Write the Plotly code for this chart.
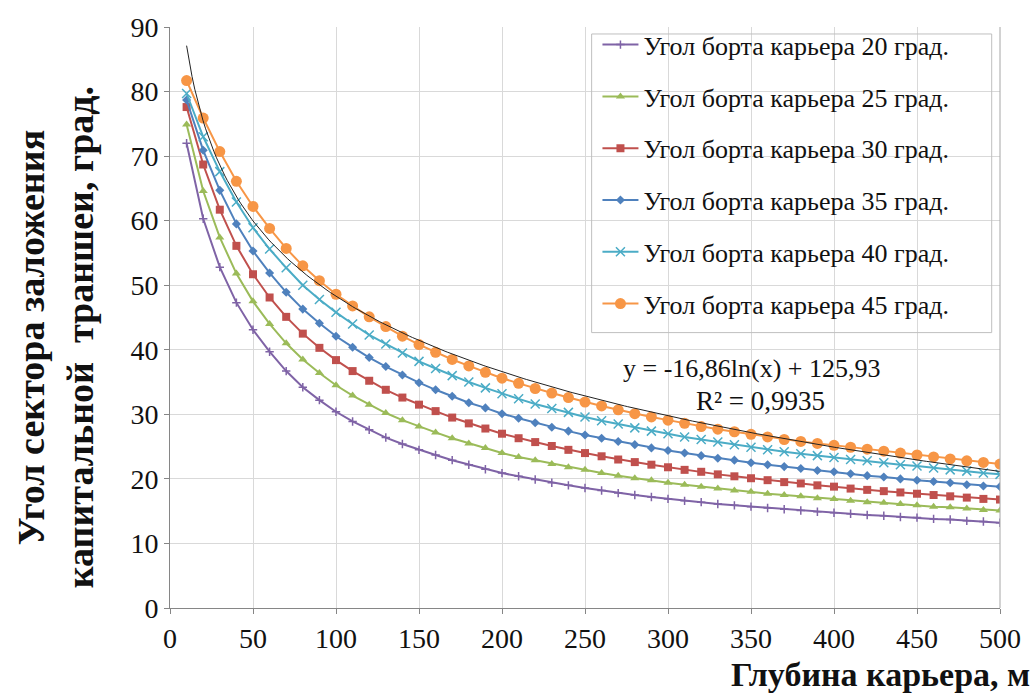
import plotly.graph_objects as go
import numpy as np

depth = list(range(10, 501, 10))

angle_20 = [72.0, 60.3, 52.8, 47.3, 43.1, 39.7, 36.7, 34.2, 32.2, 30.4,
            28.9, 27.6, 26.4, 25.4, 24.5, 23.7, 22.9, 22.2, 21.5, 20.9,
            20.4, 19.9, 19.4, 19.0, 18.6, 18.2, 17.8, 17.5, 17.2, 16.9,
            16.6, 16.4, 16.1, 15.9, 15.7, 15.5, 15.3, 15.1, 14.9, 14.75,
            14.6, 14.4, 14.3, 14.1, 14.0, 13.8, 13.7, 13.5, 13.4, 13.2]
angle_25 = [74.9, 64.6, 57.4, 51.8, 47.5, 44.0, 41.0, 38.5, 36.4, 34.5,
            32.9, 31.5, 30.2, 29.1, 28.1, 27.2, 26.3, 25.5, 24.8, 24.0,
            23.4, 22.9, 22.3, 21.8, 21.4, 20.9, 20.5, 20.1, 19.8, 19.4,
            19.1, 18.8, 18.5, 18.2, 18.0, 17.7, 17.5, 17.3, 17.0, 16.9,
            16.6, 16.4, 16.3, 16.1, 15.9, 15.7, 15.6, 15.4, 15.2, 15.1]
angle_30 = [77.6, 68.7, 61.7, 56.1, 51.7, 48.1, 45.1, 42.5, 40.3, 38.4,
            36.7, 35.2, 33.8, 32.6, 31.5, 30.5, 29.5, 28.6, 27.8, 27.0,
            26.3, 25.7, 25.1, 24.5, 24.0, 23.5, 23.0, 22.6, 22.2, 21.8,
            21.4, 21.1, 20.7, 20.4, 20.1, 19.8, 19.5, 19.3, 19.0, 18.8,
            18.5, 18.3, 18.1, 17.9, 17.7, 17.5, 17.3, 17.1, 16.9, 16.8]
angle_35 = [78.7, 70.9, 64.7, 59.5, 55.3, 51.9, 48.9, 46.3, 44.1, 42.1,
            40.4, 38.8, 37.4, 36.1, 34.9, 33.8, 32.8, 31.8, 31.0, 30.1,
            29.4, 28.7, 28.0, 27.4, 26.8, 26.3, 25.8, 25.3, 24.8, 24.4,
            24.0, 23.6, 23.2, 22.9, 22.5, 22.2, 21.9, 21.6, 21.3, 21.1,
            20.8, 20.5, 20.3, 20.0, 19.8, 19.6, 19.4, 19.1, 18.9, 18.8]
angle_40 = [79.7, 73.0, 67.6, 62.9, 58.9, 55.6, 52.7, 50.0, 47.8, 45.8,
            44.0, 42.3, 40.9, 39.5, 38.2, 37.1, 36.0, 35.0, 34.1, 33.2,
            32.4, 31.6, 30.9, 30.3, 29.6, 29.0, 28.5, 27.9, 27.4, 27.0,
            26.5, 26.1, 25.7, 25.3, 24.9, 24.5, 24.2, 23.9, 23.6, 23.3,
            23.0, 22.8, 22.5, 22.2, 22.0, 21.7, 21.4, 21.2, 20.9, 20.7]
angle_45 = [81.7, 75.9, 70.7, 66.1, 62.2, 58.8, 55.7, 53.0, 50.7, 48.6,
            46.8, 45.1, 43.6, 42.1, 40.8, 39.6, 38.5, 37.5, 36.5, 35.6,
            34.8, 34.0, 33.3, 32.6, 31.9, 31.3, 30.7, 30.1, 29.6, 29.1,
            28.6, 28.1, 27.7, 27.3, 26.9, 26.5, 26.1, 25.8, 25.5, 25.2,
            24.9, 24.6, 24.3, 24.0, 23.7, 23.4, 23.1, 22.8, 22.55, 22.3]

series_names = ["Угол борта карьера 20 град.", "Угол борта карьера 25 град.",
                "Угол борта карьера 30 град.", "Угол борта карьера 35 град.",
                "Угол борта карьера 40 град.", "Угол борта карьера 45 град."]

# trendline shown on chart: y = -16,86 ln(x) + 125,93
TREND_A = -16.86
TREND_B = 125.93
trend_label = "y = -16,86ln(x) + 125,93"
r2_label = "R² = 0,9935"

x_ticks = list(range(0, 501, 50))
y_ticks = list(range(0, 91, 10))

FONT = "Liberation Serif, Times New Roman, serif"

styles = [
    dict(color="#7F63A6", symbol="cross-thin-open", size=6, mlw=1.5),
    dict(color="#9BBB59", symbol="triangle-up", size=8, mlw=0),
    dict(color="#C0504D", symbol="square", size=8, mlw=0),
    dict(color="#4F81BD", symbol="diamond", size=7, mlw=0),
    dict(color="#4BACC6", symbol="x-thin-open", size=9, mlw=1.5),
    dict(color="#F79646", symbol="circle", size=11, mlw=0),
]

data = [angle_20, angle_25, angle_30, angle_35, angle_40, angle_45]

fig = go.Figure()
for i, (vals, name, st) in enumerate(zip(data, series_names, styles)):
    marker = dict(symbol=st["symbol"], size=st["size"], color=st["color"])
    if st["mlw"]:
        marker["line"] = dict(color=st["color"], width=st["mlw"])
    fig.add_trace(go.Scatter(
        x=depth, y=vals, mode="lines+markers", name=name,
        line=dict(color=st["color"], width=2),
        marker=marker, legendgroup=f"g{i}",
    ))

xt = np.linspace(depth[0], depth[-1], 300)
fig.add_trace(go.Scatter(x=xt, y=TREND_A * np.log(xt) + TREND_B, mode="lines",
                         line=dict(color="#222222", width=1), showlegend=False,
                         hoverinfo="skip"))

axis_common = dict(showgrid=True, gridcolor="#D9D9D9", gridwidth=1,
                   showline=True, linecolor="#868686", linewidth=1,
                   ticks="outside", ticklen=5, tickcolor="#868686",
                   tickfont=dict(family=FONT, size=28, color="#111111"),
                   zeroline=False, mirror=False)

fig.update_xaxes(range=[0, 500], tickvals=x_ticks, **axis_common)
fig.update_yaxes(range=[0, 90], tickvals=y_ticks, **axis_common)

fig.update_layout(
    width=1035, height=697,
    margin=dict(l=170, r=35, t=22, b=89),
    plot_bgcolor="white", paper_bgcolor="white",
    font=dict(family=FONT, color="#111111"),
    legend=dict(x=0.515, y=1.01, xanchor="left", yanchor="top",
                font=dict(family=FONT, size=26, color="#111111"),
                bgcolor="rgba(255,255,255,0)", borderwidth=0,
                tracegroupgap=15, itemwidth=36),
    showlegend=True,
    shapes=[
        dict(type="rect", xref="paper", yref="paper", x0=0.508, x1=0.990,
             y0=0.474, y1=0.988, line=dict(color="#BFBFBF", width=1),
             fillcolor="rgba(0,0,0,0)"),
        dict(type="line", xref="paper", yref="paper", x0=1, x1=1, y0=0, y1=1,
             line=dict(color="#A6A6A6", width=1)),
    ],
    annotations=[
        dict(text=trend_label, xref="paper", yref="paper", x=(752-170)/830,
             y=(608-366)/586, xanchor="center", yanchor="middle",
             showarrow=False, font=dict(family=FONT, size=26, color="#111111")),
        dict(text=r2_label, xref="paper", yref="paper", x=(760-170)/830,
             y=(608-399)/586, xanchor="center", yanchor="middle",
             showarrow=False, font=dict(family=FONT, size=27, color="#111111")),
        dict(text="<b>Глубина карьера, м</b>", xref="paper", yref="paper",
             x=1.0 + 32/830, y=-88/586, xanchor="right", yanchor="bottom",
             showarrow=False, font=dict(family=FONT, size=34, color="#111111")),
        dict(text="<b>Угол сектора заложения</b>", xref="paper", yref="paper",
             x=-(170-31)/830, y=(608-335)/586, textangle=-90, showarrow=False,
             xanchor="center", yanchor="middle",
             font=dict(family=FONT, size=38, color="#111111")),
        dict(text="<b>капитальной  траншеи, град.</b>", xref="paper", yref="paper",
             x=-(170-80)/830, y=(608-335)/586, textangle=-90, showarrow=False,
             xanchor="center", yanchor="middle",
             font=dict(family=FONT, size=38, color="#111111")),
    ],
)

fig.write_html("out.html")
